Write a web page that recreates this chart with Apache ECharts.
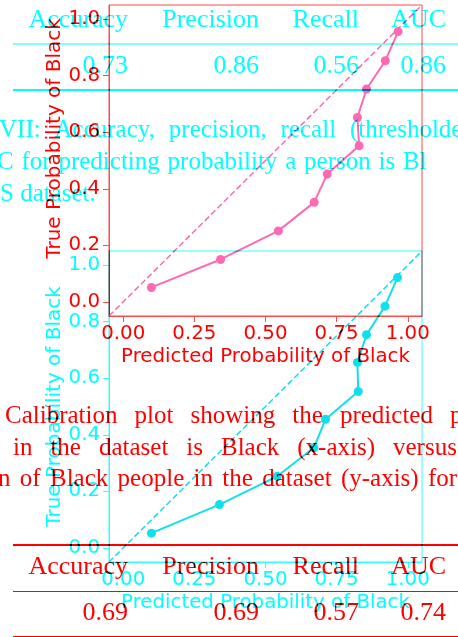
<!DOCTYPE html>
<html>
<head>
<meta charset="utf-8">
<script src="https://cdn.jsdelivr.net/npm/echarts@6/dist/echarts.min.js"></script>
<style>
  html, body { margin: 0; padding: 0; background: #ffffff; overflow: hidden; }
  .layer { position: absolute; left: 0; top: 0; width: 458px; height: 637px; }
  #layerCyan { mix-blend-mode: multiply; }
</style>
</head>
<body>
<div id="layerRed" class="layer"></div>
<div id="layerCyan" class="layer"></div>
<script>
// ---- data ----
const metricNames = ['Accuracy', 'Precision', 'Recall', 'AUC'];
const metricsCyan = ['0.73', '0.86', '0.56', '0.86'];
const metricsRed = ['0.69', '0.69', '0.57', '0.74'];

// calibration curves: mean predicted probability vs observed fraction
const predRed = [0.099, 0.342, 0.545, 0.671, 0.717, 0.829, 0.823, 0.855, 0.921, 0.966];
const trueRed = [0.051, 0.150, 0.251, 0.352, 0.452, 0.552, 0.652, 0.753, 0.853, 0.956];
const predCyan = [0.099, 0.338, 0.541, 0.670, 0.711, 0.826, 0.823, 0.855, 0.920, 0.964];
const trueCyan = [0.052, 0.153, 0.253, 0.354, 0.455, 0.553, 0.656, 0.754, 0.855, 0.956];

const xTicks = [0, 0.25, 0.5, 0.75, 1.0];
const yTicks = [0, 0.2, 0.4, 0.6, 0.8, 1.0];
const xTitle = 'Predicted Probability of Black';
const yTitle = 'True Probability of Black';

const captionCyan = [
  ['VII:', 'Accuracy,', 'precision,', 'recall', '(thresholde'],
  ['C', 'for', 'predicting', 'probability', 'a', 'person', 'is', 'Bl'],
  ['S', 'dataset.']
];
const captionRed = [
  ['Calibration', 'plot', 'showing', 'the', 'predicted', 'p'],
  ['in', 'the', 'dataset', 'is', 'Black', '(x-axis)', 'versus'],
  ['n', 'of', 'Black', 'people', 'in', 'the', 'dataset', '(y-axis)', 'for']
];

// ---- layout ----
const AX_MIN = -0.05, AX_MAX = 1.05;
const SERIF = '"Liberation Serif", "Times New Roman", serif';
const SANS = '"DejaVu Sans", sans-serif';
const TABLE_SIZE = 26, CAPTION_SIZE = 25, AXIS_SIZE = 19.8, YNAME_SIZE = 20;
const colRight = [128, 259, 359, 446];
const MIDDLE_SHIFT = 0.3375; // em offset from baseline to canvas "middle"

const measureCtx = document.createElement('canvas').getContext('2d');
function textWidth(str, size) {
  measureCtx.font = size + 'px ' + SERIF;
  return measureCtx.measureText(str).width;
}

// lay out one justified caption line as separate words
function captionLine(words, baseline, left, lastAt, color) {
  const widths = words.map(w => textWidth(w, CAPTION_SIZE));
  let gap = textWidth(' ', CAPTION_SIZE);
  if (lastAt != null && words.length > 1) {
    let used = 0;
    for (let i = 0; i < words.length - 1; i++) used += widths[i];
    gap = (lastAt - left - used) / (words.length - 1);
  }
  const out = [];
  let x = left;
  words.forEach((w, i) => {
    out.push({
      type: 'text', x: x, y: baseline - MIDDLE_SHIFT * CAPTION_SIZE, silent: true,
      style: { text: w, font: CAPTION_SIZE + 'px ' + SERIF, fill: color, align: 'left', verticalAlign: 'middle' }
    });
    x += widths[i] + gap;
  });
  return out;
}

function tableBlock(values, t, color) {
  const els = [];
  const rule = (y, w) => ({
    type: 'line', silent: true,
    shape: { x1: 13, y1: y, x2: 480, y2: y },
    style: { stroke: color, lineWidth: w }
  });
  els.push(rule(t.topRule, 2), rule(t.midRule, 1.2), rule(t.bottomRule, 2));
  metricNames.forEach((name, i) => {
    els.push({
      type: 'text', x: colRight[i], y: t.headBase - MIDDLE_SHIFT * TABLE_SIZE, silent: true,
      style: { text: name, font: TABLE_SIZE + 'px ' + SERIF, fill: color, align: 'right', verticalAlign: 'middle' }
    });
    els.push({
      type: 'text', x: colRight[i], y: t.valBase - MIDDLE_SHIFT * TABLE_SIZE, silent: true,
      style: { text: values[i], font: TABLE_SIZE + 'px ' + SERIF, fill: color, align: 'right', verticalAlign: 'middle' }
    });
  });
  return els;
}

function buildOption(cfg) {
  const axisCommon = {
    type: 'value', min: AX_MIN, max: AX_MAX,
    nameLocation: 'middle', nameMoveOverlap: false,
    axisLine: { show: true, onZero: false, lineStyle: { color: cfg.spine, width: 1 } },
    splitLine: { show: false }
  };
  const graphics = []
    .concat(tableBlock(cfg.values, cfg.table, cfg.ink));
  cfg.caption.forEach((words, i) => {
    const lay = cfg.captionLayout[i];
    graphics.push(...captionLine(words, lay.base, lay.left, lay.lastAt, cfg.ink));
  });
  return {
    animation: false,
    backgroundColor: 'transparent',
    grid: {
      left: 109, top: cfg.gridTop, width: 313, height: 311,
      show: true, borderColor: cfg.spine, borderWidth: 1,
      containLabel: false, outerBoundsMode: 'none'
    },
    xAxis: Object.assign({}, axisCommon, {
      name: xTitle, nameGap: 31,
      nameTextStyle: { color: cfg.ink, fontFamily: SANS, fontSize: AXIS_SIZE },
      axisTick: { show: true, inside: false, length: 6, customValues: xTicks, lineStyle: { color: cfg.spine } },
      axisLabel: {
        customValues: xTicks, margin: 8, color: cfg.ink, fontFamily: SANS, fontSize: AXIS_SIZE,
        formatter: v => Number(v).toFixed(2)
      }
    }),
    yAxis: Object.assign({}, axisCommon, {
      name: yTitle, nameGap: 44,
      nameTextStyle: { color: cfg.ink, fontFamily: SANS, fontSize: YNAME_SIZE, padding: [0, 0, 0, cfg.yNameLift] },
      axisTick: { show: true, inside: false, length: 6, customValues: yTicks, lineStyle: { color: cfg.spine } },
      axisLabel: {
        customValues: yTicks, margin: 9, color: cfg.ink, fontFamily: SANS, fontSize: AXIS_SIZE,
        formatter: v => Number(v).toFixed(1)
      }
    }),
    series: [
      {
        type: 'line', silent: true, symbol: 'none',
        data: [[AX_MIN, AX_MIN], [AX_MAX, AX_MAX]],
        lineStyle: { color: cfg.curve, width: 1.5, type: [6, 3] }
      },
      {
        type: 'line', silent: true, symbol: 'circle', symbolSize: 9,
        data: cfg.pred.map((x, i) => [x, cfg.obs[i]]),
        lineStyle: { color: cfg.curve, width: 2 },
        itemStyle: { color: cfg.curve, borderWidth: 0 }
      }
    ],
    graphic: { elements: graphics }
  };
}

const redChart = echarts.init(document.getElementById('layerRed'), null, { renderer: 'canvas' });
redChart.setOption(buildOption({
  ink: '#ff0000', spine: '#ff4a4a', curve: '#ff69b4', gridTop: 5, yNameLift: 44,
  pred: predRed, obs: trueRed, values: metricsRed,
  table: { topRule: 545, headBase: 575.5, midRule: 591.5, valBase: 622, bottomRule: 637 },
  caption: captionRed,
  captionLayout: [
    { base: 425, left: 5, lastAt: 450 },
    { base: 457, left: 13, lastAt: 393 },
    { base: 488, left: -2, lastAt: 428 }
  ]
}));

const cyanChart = echarts.init(document.getElementById('layerCyan'), null, { renderer: 'canvas' });
cyanChart.setOption(buildOption({
  ink: '#00ffff', spine: '#30ffff', curve: '#10e0ec', gridTop: 251, yNameLift: 0,
  pred: predCyan, obs: trueCyan, values: metricsCyan,
  table: { topRule: -1.5, headBase: 29, midRule: 44, valBase: 75, bottomRule: 90 },
  caption: captionCyan,
  captionLayout: [
    { base: 139, left: -1, lastAt: 350 },
    { base: 171, left: -3, lastAt: 403 },
    { base: 203, left: 0, lastAt: null }
  ]
}));
</script>
</body>
</html>
